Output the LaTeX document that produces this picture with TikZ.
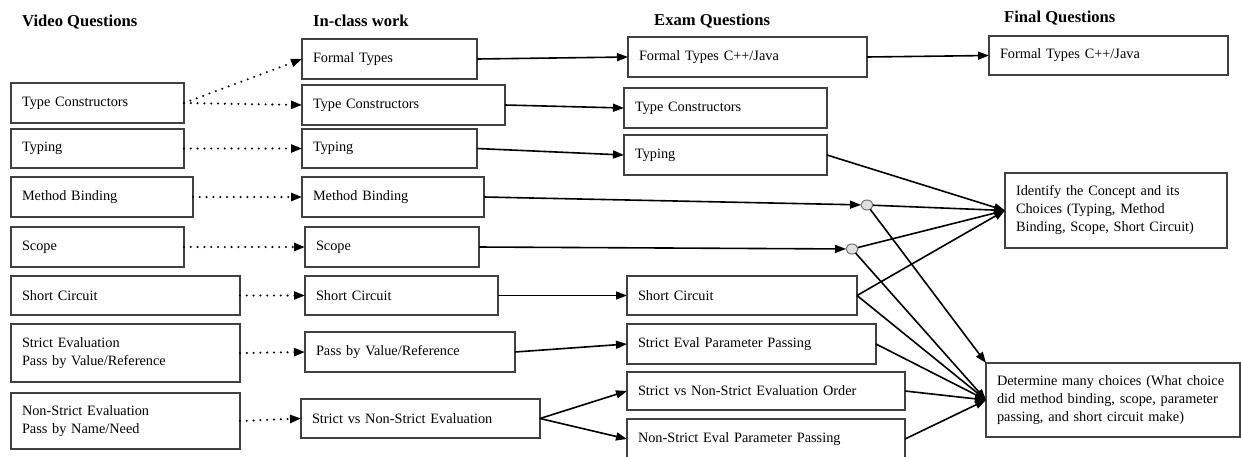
\documentclass[tikz,border=0pt]{standalone}
\usepackage{fontspec}
\setmainfont{Liberation Serif}
\usetikzlibrary{arrows.meta,shapes.geometric}
\tikzset{
  box/.style={draw=black!75, line width=1.1pt, inner xsep=11pt, inner ysep=1pt, outer sep=0pt,
    align=left, font=\fontsize{14.3pt}{18pt}\selectfont},
  head/.style={font=\fontsize{16.6pt}{19pt}\selectfont\bfseries, inner sep=0pt, anchor=base west},
  con/.style={line width=1.6pt, -{Triangle[length=11pt,width=8pt]}},
  dotcon/.style={line width=2.3pt, line cap=round, dash pattern=on 0pt off 6.8pt,
    -{Triangle[length=11pt,width=8pt]}},
  junc/.style={ellipse, draw=black!55, fill=black!12, line width=1pt, minimum width=12pt,
    minimum height=10pt, inner sep=0pt, outer sep=0pt}
}
\newcommand\bx[6]{%
  \pgfmathsetmacro\bxw{#4-#2}\pgfmathsetmacro\bxh{#5-#3}\pgfmathsetmacro\bxt{#4-#2-22}%
  \node[box, minimum width=\bxw pt, minimum height=\bxh pt, text width=\bxt pt, anchor=north west] (#1) at (#2,#3) {#6};}
\begin{document}
\begin{tikzpicture}[x=1pt,y=-1pt]
\useasboundingbox (0,0) rectangle (1241,456);
% headers
\node[head] (h1) at (22,26) {Video Questions};
\node[head] (h2) at (313,26) {In-class work};
\node[head] (h3) at (654,25) {Exam Questions};
\node[head] (h4) at (1004,22) {Final Questions};
% video questions
\bx{vtc}{11}{83}{184}{123}{Type Constructors}
\bx{vty}{11}{129}{184}{168}{Typing}
\bx{vmb}{11}{177}{193}{217}{Method Binding}
\bx{vsc}{11}{227}{184}{267}{Scope}
\bx{vsh}{11}{276}{240}{315}{Short Circuit}
\bx{vse}{11}{324}{240}{382}{Strict Evaluation\\Pass by Value/Reference}
\bx{vns}{11}{393}{240}{449}{Non-Strict Evaluation\\Pass by Name/Need}
% in-class work
\bx{cft}{302}{39}{477}{79}{Formal Types}
\bx{ctc}{302}{85}{505}{125}{Type Constructors}
\bx{cty}{302}{129}{477}{168}{Typing}
\bx{cmb}{302}{177}{484}{217}{Method Binding}
\bx{csc}{305}{227}{479}{267}{Scope}
\bx{csh}{305}{276}{498}{315}{Short Circuit}
\bx{cpv}{305}{332}{515}{372}{Pass by Value/Reference}
\bx{csn}{301}{399}{540}{438}{Strict vs Non-Strict Evaluation}
% exam questions
\bx{eft}{628}{37}{867}{77}{Formal Types C++/Java}
\bx{etc}{624}{88}{827}{128}{Type Constructors}
\bx{ety}{624}{135}{827}{175}{Typing}
\bx{esh}{627}{276}{857}{315}{Short Circuit}
\bx{epp}{627}{324}{876}{364}{Strict Eval Parameter Passing}
\bx{eord}{627}{372}{905}{410}{Strict vs Non-Strict Evaluation Order}
\bx{enp}{627}{419}{905}{459}{Non-Strict Eval Parameter Passing}
% final questions
\bx{fft}{989}{36}{1228}{75}{Formal Types C++/Java}
\bx{fid}{1005}{173}{1227}{248}{Identify the Concept and its\\Choices (Typing, Method\\Binding, Scope, Short Circuit)}
\bx{fdm}{986}{363}{1240}{437}{Determine many choices (What choice\\did method binding, scope, parameter\\passing, and short circuit make)}
% junctions
\node[junc] (j1) at (867,205) {};
\node[junc] (j2) at (852,249) {};
% dotted connectors
\draw[dotcon] (vtc.east) -- (cft.west);
\draw[dotcon] (vtc.east) -- (ctc.west);
\draw[dotcon] (vty.east) -- (cty.west);
\draw[dotcon] (vmb.east) -- (cmb.west);
\draw[dotcon] (vsc.east) -- (csc.west);
\draw[dotcon] (vsh.east) -- (csh.west);
\draw[dotcon] (vse.east) -- (cpv.west);
\draw[dotcon] (vns.east) -- (csn.west);
% solid connectors
\draw[con] (cft.east) -- (eft.west);
\draw[con] (ctc.east) -- (etc.west);
\draw[con] (cty.east) -- (ety.west);
\draw[con] (cmb.east) -- (j1);
\draw[con] (csc.east) -- (j2);
\draw[con] (csh.east) -- (esh.west);
\draw[con] (cpv.east) -- (epp.west);
\draw[con] (csn.east) -- (eord.west);
\draw[con] (csn.east) -- (enp.west);
\draw[con] (eft.east) -- (fft.west);
% to identify
\draw[con] (ety.east) -- (fid.west);
\draw[con] (j1) -- (fid.west);
\draw[con] (j2) -- (fid.west);
\draw[con] (esh.east) -- (fid.west);
% to determine
\draw[con] (j1) -- (fdm.north west);
\draw[con] (j2) -- (fdm.west);
\draw[con] (esh.east) -- (fdm.west);
\draw[con] (epp.east) -- (fdm.west);
\draw[con] (eord.east) -- (fdm.west);
\draw[con] (enp.east) -- (fdm.west);
\end{tikzpicture}
\end{document}
